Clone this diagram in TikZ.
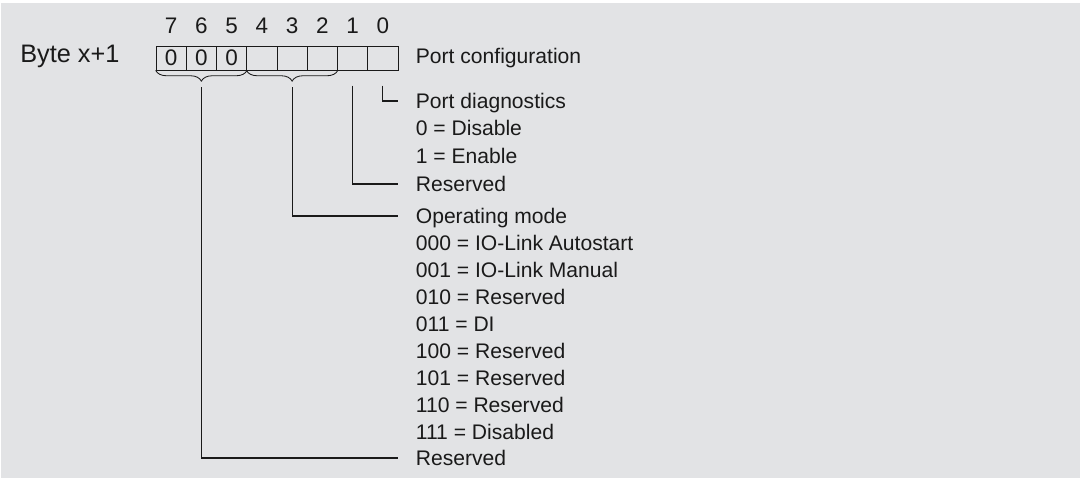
\documentclass[tikz,border=0pt]{standalone}
\usepackage{fontspec}
\setmainfont{Liberation Sans}
\usetikzlibrary{calc}
\usetikzlibrary{decorations.pathreplacing}
\definecolor{bggrey}{RGB}{226,227,229}
\definecolor{ink}{RGB}{26,26,26}

\begin{document}
\begin{tikzpicture}[
    txt/.style={font=\fontsize{15}{18}\selectfont, text=ink},
    cell/.style={draw=ink, line width=0.5pt, inner sep=0pt, minimum width=0.75625cm,
      minimum height=0.6cm, txt, font=\fontsize{16}{18}\selectfont},
    bitno/.style={txt, font=\fontsize{16}{18}\selectfont, inner sep=0pt, anchor=south},
    entry/.style={txt, anchor=west, inner sep=0pt, text height=10.7pt, text depth=0pt},
    conn/.style={draw=ink, line width=0.8pt},
    grp/.style={draw=ink, line width=0.6pt, decorate,
      decoration={brace, mirror, amplitude=0.27cm}}
  ]
  % background
  \fill[white] (0,0) rectangle (27,-11.95);
  \fill[bggrey] (0.025,-0.075) rectangle (27,-11.95);

  \node[txt, font=\fontsize{18}{21}\selectfont, anchor=base west, inner sep=0pt] (byte) at (0.5,-1.55) {Byte x+1};

  % the eight bits
  \foreach \b/\v [count=\i from 0] in {7/0,6/0,5/0,4/,3/,2/,1/,0/} {
    \node[cell] (c\b) at ({3.9+(\i+0.5)*0.75625}, -1.45) {\v};
    \node[bitno] (n\b) at ([yshift=0.3cm]c\b.north) {\b};
  }

  \draw[grp] (c7.south west) -- (c5.south east);
  \draw[grp] (c4.south west) -- (c2.south east);
  \coordinate (top75) at ([yshift=-0.42cm]c6.south);
  \coordinate (top42) at ([yshift=-0.42cm]c3.south);

  % meanings
  \node[entry] (conf) at (10.39,-1.4) {Port configuration};
  \node[entry] (diag) at (10.39,-2.525) {Port diagnostics};
  \node[entry] (dis) at (10.39,-3.2) {0 = Disable};
  \node[entry] (en) at (10.39,-3.9) {1 = Enable};
  \node[entry] (res1) at (10.39,-4.6) {Reserved};
  \node[entry] (mode) at (10.39,-5.4) {Operating mode};
  \node[entry] (m0) at (10.39,-6.075) {000 = IO-Link Autostart};
  \node[entry] (m1) at (10.39,-6.75) {001 = IO-Link Manual};
  \node[entry] (m2) at (10.39,-7.425) {010 = Reserved};
  \node[entry] (m3) at (10.39,-8.1) {011 = DI};
  \node[entry] (m4) at (10.39,-8.775) {100 = Reserved};
  \node[entry] (m5) at (10.39,-9.45) {101 = Reserved};
  \node[entry] (m6) at (10.39,-10.125) {110 = Reserved};
  \node[entry] (m7) at (10.39,-10.8) {111 = Disabled};
  \node[entry] (res2) at (10.39,-11.45) {Reserved};

  % leader lines
  \draw[conn] ([yshift=-0.38cm]c0.south) |- ([xshift=-0.44cm]diag.west);
  \draw[conn] ([yshift=-0.38cm]c1.south) |- ([xshift=-0.44cm]res1.west);
  \draw[conn] (top42) |- ([xshift=-0.44cm]mode.west);
  \draw[conn] (top75) |- ([xshift=-0.44cm]res2.west);
\end{tikzpicture}
\end{document}
